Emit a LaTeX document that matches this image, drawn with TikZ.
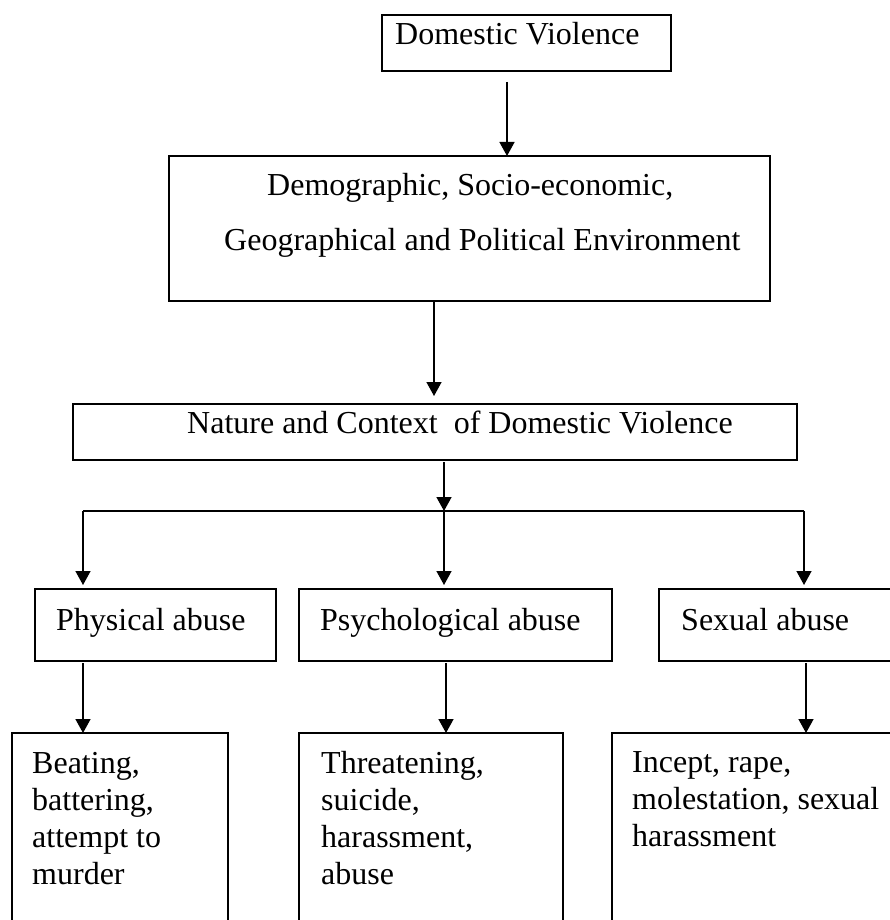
\documentclass[tikz,border=0pt]{standalone}
\usepackage{fontspec}
\setmainfont{Liberation Serif}
\usetikzlibrary{arrows.meta,calc}
\begin{document}
\begin{tikzpicture}[x=1pt,y=-1pt,
  box/.style={draw,line width=1.5pt,inner sep=0pt,outer sep=0pt},
  txt/.style={anchor=base west,inner sep=0pt,font=\fontsize{32}{37}\selectfont},
  mtxt/.style={txt,text width=270pt,align=flush left},
  arr/.style={line width=1.5pt,-{Triangle[width=15pt,length=14pt]}},
  ln/.style={line width=1.5pt}]
\useasboundingbox (0,0) rectangle (890,920);
\clip (0,0) rectangle (890,920);
% boxes
\node[box,minimum width=289pt,minimum height=56pt] (b1) at (526.5,43) {};
\node[box,minimum width=601pt,minimum height=145pt] (b2) at (469.5,228.5) {};
\node[box,minimum width=724pt,minimum height=56pt] (b3) at (435,432) {};
\node[box,minimum width=241pt,minimum height=72pt] (phys) at (155.5,625) {};
\node[box,minimum width=313pt,minimum height=72pt] (psych) at (455.5,625) {};
\node[box,minimum width=241pt,minimum height=72pt] (sex) at (779.5,625) {};
\node[box,minimum width=216pt,minimum height=207pt] (ba) at (120,836.5) {};
\node[box,minimum width=264pt,minimum height=207pt] (bb) at (431,836.5) {};
\node[box,minimum width=288pt,minimum height=207pt] (bc) at (756,836.5) {};
% texts
\node[txt] (t1) at (395,45) {Domestic Violence};
\node[txt] (t2a) at (267,195) {Demographic, Socio-economic,};
\node[txt] (t2b) at (224,250) {Geographical and Political Environment};
\node[txt] (t3) at (187,433) {Nature and Context\ \ of Domestic Violence};
\node[txt] (tp) at (56,630) {Physical abuse};
\node[txt] (tq) at (320,630) {Psychological abuse};
\node[txt] (ts) at (681,630) {Sexual abuse};
\node[mtxt] (ta) at (32,773) {Beating,\\ battering,\\ attempt to\\ murder};
\node[mtxt] (tb) at (321,773) {Threatening,\\ suicide,\\ harassment,\\ abuse};
\node[mtxt] (tc) at (632,772) {Incept, rape,\\ molestation, sexual\\ harassment};
% connector x positions
\coordinate (x1) at (507,0);
\coordinate (x2) at (434,0);
\coordinate (x3) at (444,0);
\coordinate (hL) at (83,511);
\coordinate (hM) at (444,511);
\coordinate (hR) at (804,511);
\coordinate (xa) at (83,0);
\coordinate (xb) at (446,0);
\coordinate (xc) at (806,0);
% connectors
\draw[arr] ([yshift=-11pt]b1.south -| x1) -- (b2.north -| x1);
\draw[arr] (b2.south -| x2) -- ([yshift=8pt]b3.north -| x2);
\draw[arr] ([yshift=-2pt]b3.south -| x3) -- (hM);
\draw[ln] (hL) -- (hR);
\draw[arr] (hL) -- ([yshift=4pt]phys.north -| hL);
\draw[arr] (hM) -- ([yshift=4pt]psych.north -| hM);
\draw[arr] (hR) -- ([yshift=4pt]sex.north -| hR);
\draw[arr] ([yshift=-2pt]phys.south -| xa) -- (ba.north -| xa);
\draw[arr] ([yshift=-2pt]psych.south -| xb) -- (bb.north -| xb);
\draw[arr] ([yshift=-2pt]sex.south -| xc) -- (bc.north -| xc);
\end{tikzpicture}
\end{document}
